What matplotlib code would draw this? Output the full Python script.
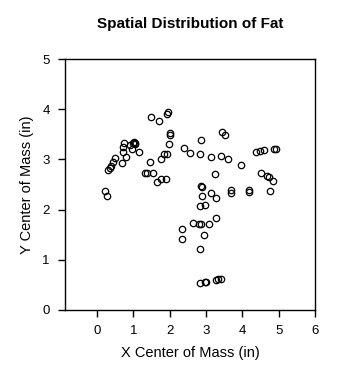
import matplotlib
matplotlib.use("Agg")
import matplotlib.pyplot as plt

plt.rcParams["font.family"] = ["Liberation Sans", "DejaVu Sans"]

# valores (polegadas)
x_cm = [0.21, 0.27, 0.30, 0.35, 0.40, 0.44, 0.49, 0.70, 0.72, 0.72,
        0.74, 0.81, 0.92, 0.96, 0.98, 1.01, 1.04, 1.06, 1.16, 1.47,
        1.31, 1.39, 1.54, 1.64, 1.77, 1.89, 1.77, 1.84, 1.94, 1.98,
        2.02, 2.02, 1.48, 1.70, 1.93, 1.95, 2.39, 2.57, 2.83, 2.87,
        3.15, 3.42, 3.61, 3.43, 3.52, 3.96, 4.39, 4.48, 4.59, 4.88,
        4.92, 3.26, 4.52, 4.69, 4.74, 4.85, 2.87, 2.88, 2.90, 3.15,
        3.27, 3.70, 3.70, 4.19, 4.19, 4.76, 2.83, 2.97, 2.35, 2.33,
        2.63, 2.81, 2.85, 3.08, 3.27, 2.94, 2.83, 2.83, 2.97, 3.01,
        3.27, 3.33, 3.40]
y_cm = [2.37, 2.27, 2.78, 2.82, 2.86, 2.95, 3.02, 2.92, 3.15, 3.25,
        3.33, 3.04, 3.28, 3.21, 3.33, 3.35, 3.33, 3.31, 3.15, 2.95,
        2.73, 2.73, 2.73, 2.55, 2.60, 2.61, 3.00, 3.10, 3.10, 3.31,
        3.49, 3.52, 3.84, 3.76, 3.91, 3.94, 3.23, 3.13, 3.11, 3.39,
        3.04, 3.07, 3.01, 3.55, 3.49, 2.89, 3.15, 3.17, 3.19, 3.20,
        3.21, 2.70, 2.73, 2.67, 2.64, 2.56, 2.47, 2.44, 2.26, 2.33,
        2.23, 2.39, 2.33, 2.39, 2.35, 2.37, 2.07, 2.10, 1.61, 1.41,
        1.74, 1.72, 1.72, 1.72, 1.84, 1.50, 1.21, 0.54, 0.56, 0.56,
        0.60, 0.61, 0.62]

x_ticks = [0, 1, 2, 3, 4, 5, 6]
y_ticks = [0, 1, 2, 3, 4, 5]

fig = plt.figure(figsize=(3.61, 3.77), dpi=100)
ax = fig.add_axes([0.18, 0.178, 0.6926, 0.6655])

ax.plot(x_cm, y_cm, ls="none", marker="o", ms=4.6, mfc="none",
        mec="black", mew=0.9)

ax.set_xlim(-0.88, 6)
ax.set_ylim(0, 5)
ax.set_xticks(x_ticks)
ax.set_yticks(y_ticks)
ax.tick_params(direction="out", length=5, width=1, labelsize=9.5, pad=6,
               top=False, right=False)
for s in ax.spines.values():
    s.set_linewidth(1)

ax.set_xlabel("X Center of Mass (in)", fontsize=10.5, labelpad=6)
ax.set_ylabel("Y Center of Mass (in)", fontsize=10.5, labelpad=6)
ax.set_title("Spatial Distribution of Fat", fontsize=11, fontweight="bold", pad=22)

fig.savefig("out.png", dpi=100)
